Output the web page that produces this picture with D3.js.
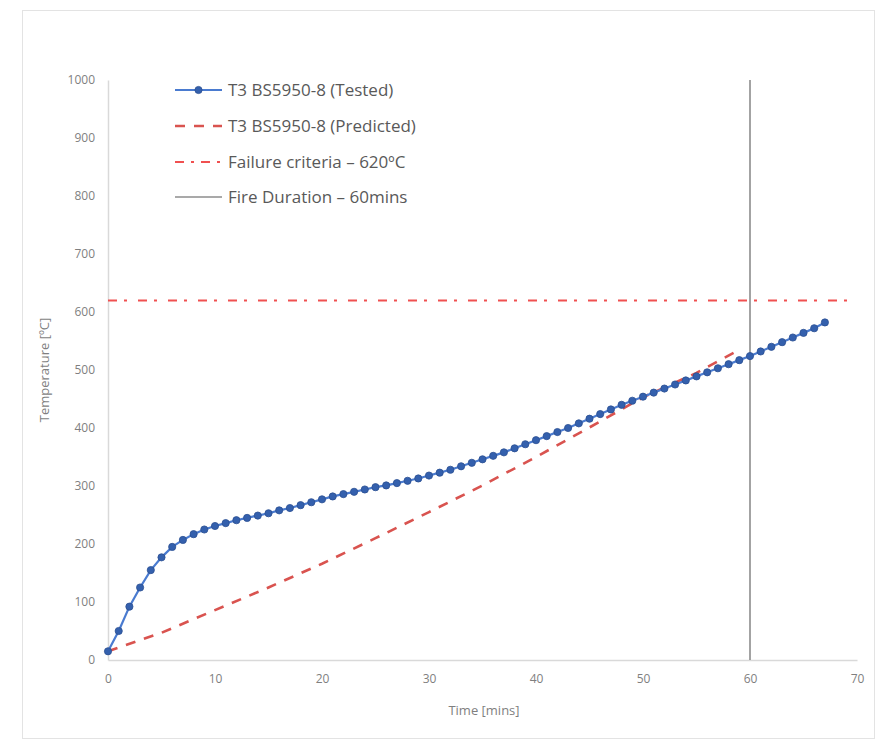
<!DOCTYPE html>
<html>
<head>
<meta charset="utf-8">
<script src="https://cdn.jsdelivr.net/npm/d3@7"></script>
<style>
  html, body { margin: 0; padding: 0; background: #fff; }
  svg { display: block; }
</style>
</head>
<body>
<svg id="chart" width="890" height="746"></svg>
<script>
// ---- Data ----
const testedTime = [0,1,2,3,4,5,6,7,8,9,10,11,12,13,14,15,16,17,18,19,20,21,22,23,24,25,26,27,28,29,30,31,32,33,34,35,36,37,38,39,40,41,42,43,44,45,46,47,48,49,50,51,52,53,54,55,56,57,58,59,60,61,62,63,64,65,66,67];
const testedTemp = [15,50,92,125,155,177,195,207,217,225,231,236,241,245,249,253,258,262,267,272,277,282,286,290,294,298,301,305,309,313,318,323,328,334,340,346,352,358,365,372,379,386,393,400,408,416,424,432,440,447,454,461,468,475,482,489,496,503,510,517,524,532,540,548,556,564,572,582];
const predictedTime = [0,5,10,15,20,25,30,35,40,45,50,55,58.5];
const predictedTemp = [15,47,86,125,166,210,255,301,350,401,453,495,530];
const failureTime = [0,70];
const failureTemp = [620,620];
const fireTime = [60,60];
const fireTemp = [0,1000];
const xTicks = [0,10,20,30,40,50,60,70];
const yTicks = [0,100,200,300,400,500,600,700,800,900,1000];
const legendLabels = ["T3 BS5950-8 (Tested)","T3 BS5950-8 (Predicted)","Failure criteria \u2013 620\u00BAC","Fire Duration \u2013 60mins"];

// ---- Layout ----
const svg = d3.select("#chart");
const font = "'Open Sans', 'Noto Sans', sans-serif";
const x = d3.scaleLinear().domain([0,70]).range([108,857]);
const y = d3.scaleLinear().domain([0,1000]).range([660,80]);

// chart border
svg.append("rect").attr("x",22.5).attr("y",10.5).attr("width",852).attr("height",728)
  .attr("fill","#fff").attr("stroke","#e3e3e3").attr("stroke-width",1);

// axes
const xAxis = d3.axisBottom(x).tickValues(xTicks).tickFormat(d3.format("d")).tickSize(0).tickPadding(14);
const yAxis = d3.axisLeft(y).tickValues(yTicks).tickFormat(d3.format("d")).tickSize(0).tickPadding(13);
const gx = svg.append("g").attr("transform",`translate(0,${y(0)})`).call(xAxis);
const gy = svg.append("g").attr("transform",`translate(${x(0)},0)`).call(yAxis);
[gx, gy].forEach(g => {
  g.select(".domain").attr("stroke","#d9d9d9").attr("stroke-width",1.5);
  g.selectAll("text").attr("fill","#7f7f7f").style("font-family",font).style("font-size","12px");
});

// axis titles
svg.append("text").attr("x",484).attr("y",715).attr("text-anchor","middle")
  .attr("fill","#7f7f7f").style("font-family",font).style("font-size","13px").text("Time [mins]");
svg.append("text").attr("transform","translate(49,370) rotate(-90)").attr("text-anchor","middle")
  .attr("fill","#7f7f7f").style("font-family",font).style("font-size","13px").text("Temperature [\u00BAC]");

const line = d3.line().x(d => x(d[0])).y(d => y(d[1]));

// Fire duration vertical line
svg.append("path").datum(d3.zip(fireTime, fireTemp)).attr("d", line)
  .attr("fill","none").attr("stroke","#8c8c8c").attr("stroke-width",1.6);

// Failure criteria
svg.append("path").datum(d3.zip(failureTime, failureTemp)).attr("d", line)
  .attr("fill","none").attr("stroke","#f05050").attr("stroke-width",2)
  .attr("stroke-dasharray","9,7,3,11");

// Predicted
svg.append("path").datum(d3.zip(predictedTime, predictedTemp)).attr("d", line)
  .attr("fill","none").attr("stroke","#d9534f").attr("stroke-width",2.6)
  .attr("stroke-dasharray","10,9");

// Tested
const tested = d3.zip(testedTime, testedTemp);
svg.append("path").datum(tested).attr("d", line)
  .attr("fill","none").attr("stroke","#4a7bd0").attr("stroke-width",2.2);
svg.append("g").selectAll("circle").data(tested).join("circle")
  .attr("cx", d => x(d[0])).attr("cy", d => y(d[1])).attr("r",3.6)
  .attr("fill","#3460ad").attr("stroke","#2b4f92").attr("stroke-width",0.8);

// Legend
const lg = svg.append("g");
const rowY = [90,126,162,197];
const lx0 = 175, lx1 = 222;
lg.append("line").attr("x1",lx0).attr("x2",lx1).attr("y1",rowY[0]).attr("y2",rowY[0])
  .attr("stroke","#4a7bd0").attr("stroke-width",2.2);
lg.append("circle").attr("cx",(lx0+lx1)/2).attr("cy",rowY[0]).attr("r",3.6)
  .attr("fill","#3460ad").attr("stroke","#2b4f92").attr("stroke-width",0.8);
lg.append("line").attr("x1",lx0).attr("x2",lx1).attr("y1",rowY[1]).attr("y2",rowY[1])
  .attr("stroke","#d9534f").attr("stroke-width",2.6).attr("stroke-dasharray","10,9");
lg.append("line").attr("x1",lx0).attr("x2",lx1).attr("y1",rowY[2]).attr("y2",rowY[2])
  .attr("stroke","#f05050").attr("stroke-width",2).attr("stroke-dasharray","9,7,3,7");
lg.append("line").attr("x1",lx0).attr("x2",lx1).attr("y1",rowY[3]).attr("y2",rowY[3])
  .attr("stroke","#8c8c8c").attr("stroke-width",1.6);
lg.selectAll("text").data(legendLabels).join("text")
  .attr("x",228).attr("y",(d,i) => rowY[i]).attr("dy","0.35em")
  .attr("fill","#595959").style("font-family",font).style("font-size","17px")
  .text(d => d);
</script>
</body>
</html>
